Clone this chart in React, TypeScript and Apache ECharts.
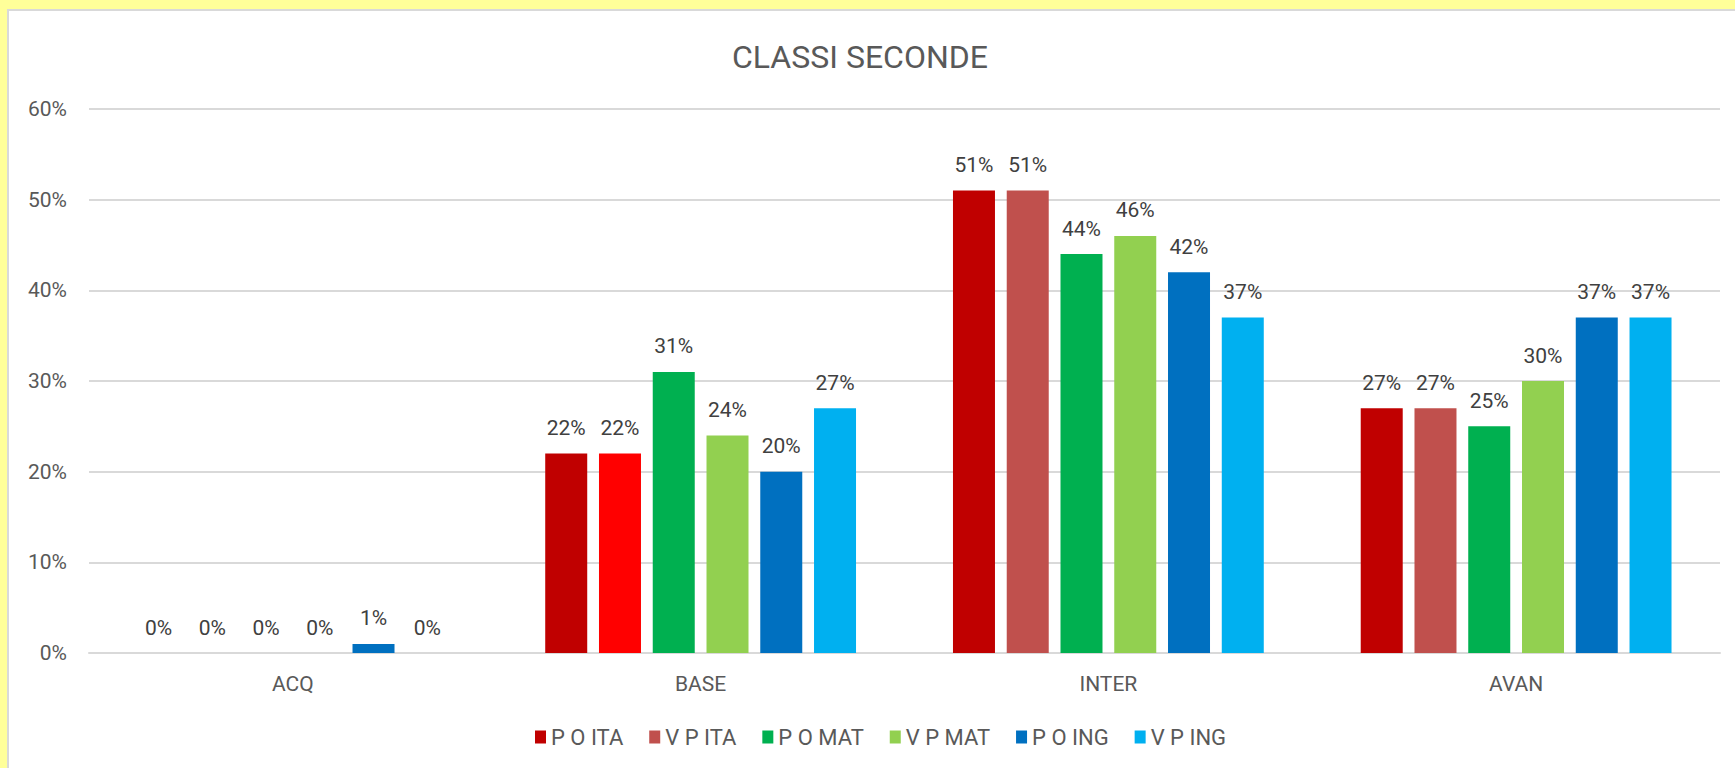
import React, { useEffect, useRef } from "react";
import * as echarts from "echarts";

const categories = ["ACQ", "BASE", "INTER", "AVAN"];
const seriesNames = ["P O ITA", "V P ITA", "P O MAT", "V P MAT", "P O ING", "V P ING"];
const pOIta = [0, 22, 51, 27];
const vPIta = [0, 22, 51, 27];
const pOMat = [0, 31, 44, 25];
const vPMat = [0, 24, 46, 30];
const pOIng = [1, 20, 42, 37];
const vPIng = [0, 27, 37, 37];
const yTicks = [0, 10, 20, 30, 40, 50, 60];

const seriesValues = [pOIta, vPIta, pOMat, vPMat, pOIng, vPIng];
const seriesColors = ["#C00000", "#C0504D", "#00B050", "#92D050", "#0070C0", "#00B0F0"];
// In the reference, the V P ITA bar of BASE is drawn in pure red
const pointColorOverride: Record<string, string> = { "1-1": "#FF0000" };

const FONT = "Roboto";

export default function App() {
  const ref = useRef<HTMLDivElement>(null);
  useEffect(() => {
    document.body.style.margin = "0";
    if (!ref.current) return;
    const chart = echarts.init(ref.current, undefined, { renderer: "svg" });
    const series = seriesValues.map((vals, si) => ({
      name: seriesNames[si],
      type: "bar",
      barWidth: 42,
      barGap: "28%",
      itemStyle: { color: seriesColors[si] },
      label: {
        show: true,
        position: "top",
        distance: 15,
        formatter: "{c}%",
        color: "#404040",
        fontSize: 21,
        fontFamily: FONT,
      },
      data: vals.map((v, ci) => {
        const c = pointColorOverride[`${si}-${ci}`];
        return c ? { value: v, itemStyle: { color: c } } : v;
      }),
    }));
    chart.setOption({
      animation: false,
      textStyle: { fontFamily: FONT },
      title: {
        text: "CLASSI SECONDE",
        left: 732,
        top: 41,
        padding: 0,
        textStyle: { color: "#595959", fontSize: 32, fontWeight: "normal", fontFamily: FONT },
      },
      legend: {
        data: seriesNames,
        left: 530,
        top: 721,
        itemWidth: 11,
        itemHeight: 13,
        itemGap: 26,
        icon: "rect",
        textStyle: { color: "#595959", fontSize: 22, fontFamily: FONT, padding: [0, 0, 0, 0] },
      },
      grid: { left: 89, right: 15, top: 109, bottom: 115, containLabel: false },
      xAxis: {
        type: "category",
        data: categories,
        axisLine: { show: true, lineStyle: { color: "#D9D9D9", width: 2 } },
        axisTick: { show: false },
        axisLabel: { color: "#595959", fontSize: 21, fontFamily: FONT, margin: 20 },
      },
      yAxis: {
        type: "value",
        min: yTicks[0],
        max: yTicks[yTicks.length - 1],
        interval: yTicks[1] - yTicks[0],
        axisLine: { show: false },
        axisTick: { show: false },
        splitLine: { lineStyle: { color: "#D9D9D9", width: 2 } },
        axisLabel: { color: "#595959", fontSize: 21, fontFamily: FONT, margin: 22, formatter: "{value}%" },
      },
      series,
    });
    return () => chart.dispose();
  }, []);
  return (
    <div style={{ position: "relative", width: 1735, height: 768, background: "#FFFF99", overflow: "hidden" }}>
      <div
        style={{
          position: "absolute",
          left: 7,
          top: 9,
          width: 1740,
          height: 770,
          background: "#FFFFFF",
          borderLeft: "2px solid #D9D9D9",
          borderTop: "2px solid #D9D9D9",
        }}
      />
      <div ref={ref} style={{ position: "absolute", left: 0, top: 0, width: 1735, height: 768 }} />
    </div>
  );
}
